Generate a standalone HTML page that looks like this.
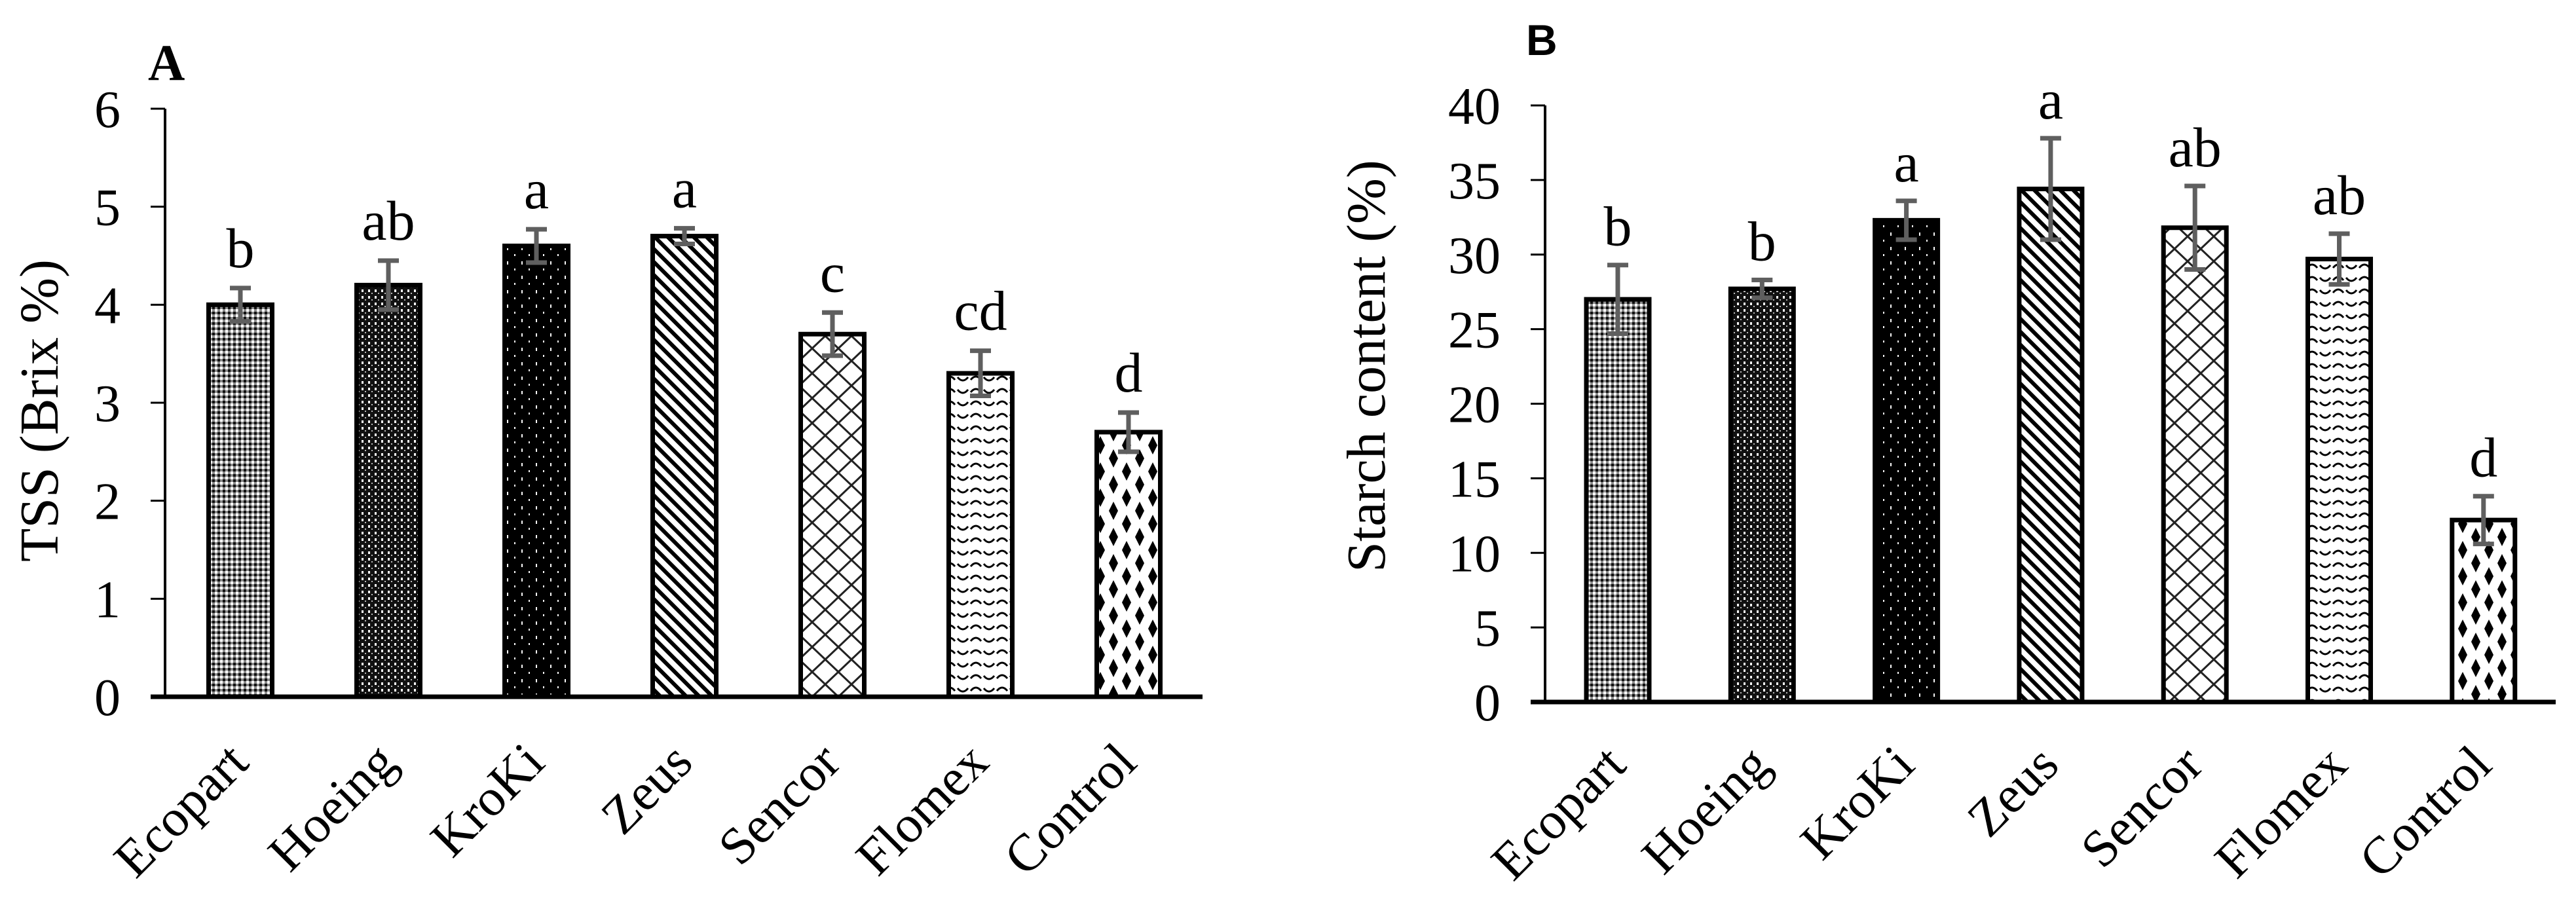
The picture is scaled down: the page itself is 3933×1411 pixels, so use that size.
<!DOCTYPE html>
<html><head><meta charset="utf-8"><style>
html,body{margin:0;padding:0;background:#fff;}
svg{display:block;}
text{font-family:"Liberation Serif",serif;fill:#000;}
</style></head><body>
<svg id="fig" width="3933" height="1411" viewBox="0 0 3933 1411" xmlns="http://www.w3.org/2000/svg">
<defs>
<pattern id="p0" width="8" height="8" patternUnits="userSpaceOnUse"><rect width="8" height="8" fill="#8a8a8a"/><rect width="4" height="4" fill="#fff"/><rect x="4" y="4" width="4" height="4" fill="#111"/></pattern>
<pattern id="p1" width="10" height="10" patternUnits="userSpaceOnUse"><rect width="10" height="10" fill="#111"/><rect x="2" y="2" width="3" height="4" fill="#fff"/><rect x="7" y="7" width="2" height="2" fill="#bbb"/></pattern>
<pattern id="p2" width="22" height="22" patternUnits="userSpaceOnUse"><rect width="22" height="22" fill="#000"/><rect x="4" y="3" width="2" height="5" fill="#fff"/><rect x="15" y="14" width="2" height="3" fill="#fff"/></pattern>
<pattern id="p3" width="14" height="14" patternUnits="userSpaceOnUse" patternTransform="rotate(-45)"><rect width="14" height="14" fill="#fff"/><rect width="6" height="14" fill="#000"/></pattern>
<pattern id="p4" width="40" height="38" patternUnits="userSpaceOnUse"><rect width="40" height="38" fill="#fff"/><path d="M0 0L40 38M40 0L0 38" stroke="#222" stroke-width="3"/></pattern>
<pattern id="p5" width="40" height="19" patternUnits="userSpaceOnUse"><rect width="40" height="19" fill="#fff"/><path d="M2 10Q10 0 18 10M22 6Q30 16 38 6" stroke="#000" stroke-width="3" fill="none"/></pattern>
<pattern id="p6" width="40" height="40" patternUnits="userSpaceOnUse"><rect width="40" height="40" fill="#fff"/><path d="M20 6L27 20L20 34L13 20Z" fill="#000"/><path d="M0 -14L7 0L0 14L-7 0ZM40 -14L47 0L40 14L33 0ZM0 26L7 40L0 54L-7 40ZM40 26L47 40L40 54L33 40Z" fill="#000"/></pattern>
</defs>
<g id="chartA"></g>
<g id="chartB"></g>
</svg>
<script>
const categories = ["Ecopart","Hoeing","KroKi","Zeus","Sencor","Flomex","Control"];
const tssValues = [4.0,4.2,4.6,4.7,3.7,3.3,2.7];
const tssErrors = [0.17,0.25,0.17,0.08,0.22,0.23,0.2];
const tssLetters = ["b","ab","a","a","c","cd","d"];
const tssTicks = [0,1,2,3,4,5,6];
const starchValues = [27.0,27.7,32.3,34.4,31.8,29.7,12.2];
const starchErrors = [2.3,0.6,1.3,3.4,2.8,1.7,1.6];
const starchLetters = ["b","b","a","a","ab","ab","d"];
const starchTicks = [0,5,10,15,20,25,30,35,40];
const NS="http://www.w3.org/2000/svg";
function mk(parent,tag,attrs,txt){const e=document.createElementNS(NS,tag);for(const k in attrs)e.setAttribute(k,attrs[k]);if(txt!==undefined)e.textContent=txt;parent.appendChild(e);return e;}
function draw(g,cfg,values,errors,letters,ticks){
  const yS=v=>cfg.y0-(v/cfg.max)*(cfg.y0-cfg.yTop);
  const xS=i=>cfg.x0+i*cfg.step;
  ticks.forEach(t=>{
    const tk=mk(g,'line',{x1:cfg.ax-22,x2:cfg.ax,y1:yS(t),y2:yS(t),stroke:'#000','stroke-width':3});
    
    
    const tl=mk(g,'text',{x:cfg.ax-68,y:yS(t)+28,'text-anchor':'end','font-size':80},String(t));
    
    
  });
  const ya=mk(g,'line',{x1:cfg.ax,x2:cfg.ax,y1:yS(cfg.max),y2:cfg.y0,stroke:'#000','stroke-width':4});
  
  
  values.forEach((v,i)=>{
    const cx=xS(i);
    const b=mk(g,'rect',{x:cx-cfg.bw/2,y:yS(v),width:cfg.bw,height:cfg.y0-yS(v),fill:'url(#p'+i+')',stroke:'#000','stroke-width':7});
    
    
    const top=yS(v+errors[i]),bot=yS(v-errors[i]);
    const eb=mk(g,'path',{d:`M${cx} ${top}V${bot}M${cx-16} ${top}H${cx+16}M${cx-16} ${bot}H${cx+16}`,stroke:'#5f5f5f','stroke-width':7,fill:'none'});
    
    
    const lt=mk(g,'text',{x:cx,y:top-cfg.gap,'text-anchor':'middle','font-size':86},letters[i]);
    
    
    const lx=cx+16;
    const cl=mk(g,'text',{x:lx,y:cfg.labY,'text-anchor':'end','font-size':80,transform:`rotate(-45 ${lx} ${cfg.labY})`},categories[i]);
    
    
  });
  const xa=mk(g,'line',{x1:cfg.ax-22,x2:cfg.xEnd,y1:cfg.y0,y2:cfg.y0,stroke:'#000','stroke-width':7});
  
  
  const yt=mk(g,'text',{x:cfg.tx,y:cfg.ty,'text-anchor':'middle','font-size':84,transform:`rotate(-90 ${cfg.tx} ${cfg.ty})`},cfg.title);
  
  
}
draw(document.getElementById('chartA'),{ax:252,y0:1064,yTop:166,max:6,x0:367,step:226,bw:97,xEnd:1836,gap:32,labY:1168,tx:88,ty:627,title:"TSS (Brix %)"},tssValues,tssErrors,tssLetters,tssTicks);
draw(document.getElementById('chartB'),{ax:2359,y0:1072,yTop:161,max:40,x0:2470,step:220.3,bw:96,xEnd:3902,gap:30,labY:1172,tx:2114,ty:559,title:"Starch content (%)"},starchValues,starchErrors,starchLetters,starchTicks);
const g=document.getElementById('fig');
const a=mk(g,'text',{x:226,y:122,'font-size':78,'font-weight':'bold'},'A');


const bb=mk(g,'text',{x:2330,y:84,'font-size':66,'font-weight':'bold',style:'font-family:"Liberation Sans",sans-serif'},'B');


</script>
</body></html>
